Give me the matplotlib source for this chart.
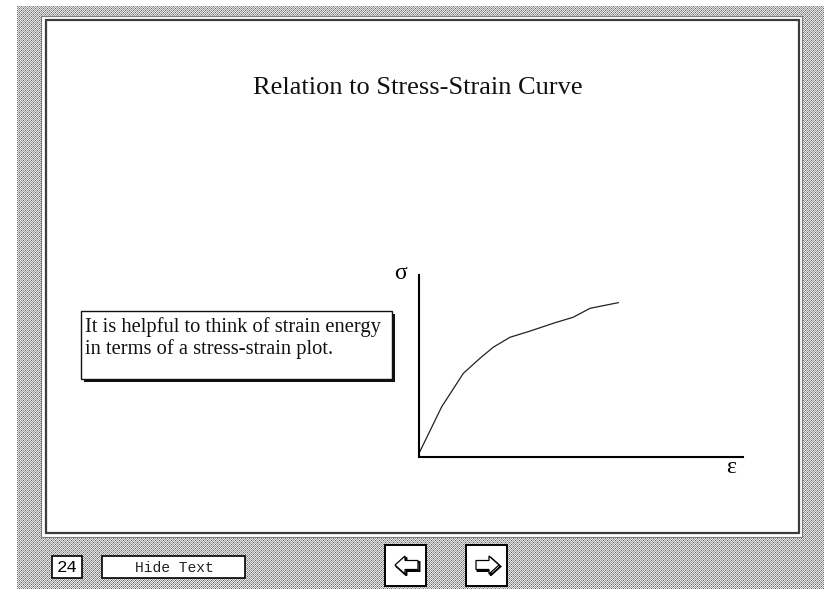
import numpy as np
import matplotlib
matplotlib.use("Agg")
import matplotlib.pyplot as plt
from matplotlib.patches import Rectangle, Polygon

W, H = 824, 589

# stress-strain curve (normalised strain, normalised stress)
strain = [0.0, 0.070, 0.137, 0.188, 0.229, 0.281, 0.343, 0.415, 0.476, 0.528, 0.615]
stress = [0.02, 0.276, 0.460, 0.542, 0.603, 0.658, 0.692, 0.735, 0.768, 0.817, 0.848]

title = "Relation to Stress-Strain Curve"
note_lines = ["It is helpful to think of strain energy",
              "in terms of a stress-strain plot."]
page_no = "24"
hide_label = "Hide Text"

SERIF = ["Liberation Serif", "DejaVu Serif"]
MONO = ["Liberation Mono", "DejaVu Sans Mono"]

fig = plt.figure(figsize=(W / 100, H / 100), dpi=100)
fig.patch.set_facecolor("white")

# screen layer in pixel coordinates
bg = fig.add_axes([0, 0, 1, 1])
bg.set_xlim(0, W)
bg.set_ylim(H, 0)
bg.axis("off")

# dithered grey desktop
tile = np.array([[0.40, 0.90, 0.62, 0.90],
                 [0.90, 0.62, 0.90, 0.62],
                 [0.62, 0.90, 0.40, 0.90],
                 [0.90, 0.62, 0.90, 0.62]])
ny, nx = H - 6, W - 17
pat = np.tile(tile, (ny // 4 + 1, nx // 4 + 1))[:ny, :nx]
bg.imshow(pat, cmap="gray", vmin=0, vmax=1, interpolation="nearest",
          extent=(17, W, H, 6), aspect="auto", zorder=0)

# slide frame
bg.add_patch(Rectangle((41, 16), 761, 521, facecolor="white",
                       edgecolor="#7a7a7a", lw=0.8, zorder=1))
bg.add_patch(Rectangle((46, 20), 753, 513, facecolor="white",
                       edgecolor="#3c3c3c", lw=1.6, zorder=2))

bg.text(418, 88, title, family=SERIF, fontsize=19, ha="center", va="center",
        color="#111111", zorder=3)

# note box with drop shadow
bg.add_patch(Rectangle((84, 314), 311, 68, facecolor="#111111", lw=0, zorder=3))
bg.add_patch(Rectangle((81, 311), 311, 68, facecolor="white",
                       edgecolor="#111111", lw=1.0, zorder=4))
for i, line in enumerate(note_lines):
    bg.text(85, 332 + i * 22, line, family=SERIF, fontsize=14.8,
            ha="left", va="baseline", color="#111111", zorder=5)

# bottom controls
bg.add_patch(Rectangle((52, 556), 30, 22, facecolor="white",
                       edgecolor="black", lw=1.2, zorder=3))
bg.text(67, 568, page_no, family=MONO, fontsize=12.5, ha="center", va="center",
        zorder=4)
bg.add_patch(Rectangle((102, 556), 143, 22, facecolor="white",
                       edgecolor="black", lw=1.2, zorder=3))
bg.text(174, 568, hide_label, family=MONO, fontsize=10.5, ha="center",
        va="center", color="#222222", zorder=4)

for x0 in (385, 466):
    bg.add_patch(Rectangle((x0, 545), 41, 41, facecolor="white",
                           edgecolor="black", lw=1.4, zorder=3))


def arrow(cx, cy, direction):
    pts = np.array([[-11, 0], [-1, -9], [-1, -4.5], [12, -4.5],
                    [12, 4.5], [-1, 4.5], [-1, 9]])
    pts[:, 0] *= direction
    shadow = pts + [1.5, 1.5]
    bg.add_patch(Polygon(shadow + [cx, cy], closed=True, facecolor="none",
                         edgecolor="black", lw=1.4, zorder=4))
    bg.add_patch(Polygon(pts + [cx, cy], closed=True, facecolor="white",
                         edgecolor="black", lw=0.9, zorder=5))


arrow(406, 565, 1)
arrow(488, 565, -1)

# stress-strain axes
left, right, top, bottom = 419, 743, 275, 457
ax = fig.add_axes([left / W, 1 - bottom / H, (right - left) / W, (bottom - top) / H])
ax.set_facecolor("none")
ax.plot(strain, stress, color="#222222", lw=0.9, clip_on=False)
ax.set_xlim(0, 1)
ax.set_ylim(0, 1)
for s in ("top", "right"):
    ax.spines[s].set_visible(False)
for s in ("left", "bottom"):
    ax.spines[s].set_linewidth(1.5)
    ax.spines[s].set_color("black")
ax.set_xticks([])
ax.set_yticks([])
ax.text(-0.058, 1.01, "σ", transform=ax.transAxes, family=SERIF,
        fontsize=17, ha="center", va="center")
ax.text(0.963, -0.06, "ε", transform=ax.transAxes, family=SERIF,
        fontsize=17, ha="center", va="center")

fig.savefig("out.png", dpi=100)
